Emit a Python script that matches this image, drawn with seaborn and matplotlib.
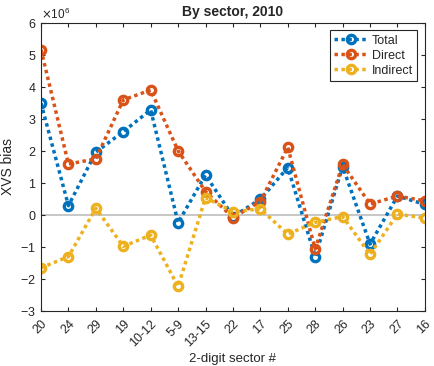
import numpy as np
import pandas as pd
import matplotlib
matplotlib.use("Agg")
import matplotlib.pyplot as plt
import seaborn as sns
from matplotlib.ticker import ScalarFormatter

sectors = ["20", "24", "29", "19", "10-12", "5-9", "13-15", "22", "17", "25", "28", "26", "23", "27", "16"]
total = [3.49, 0.29, 1.96, 2.60, 3.28, -0.24, 1.25, -0.05, 0.49, 1.48, -1.30, 1.51, -0.91, 0.59, 0.33]
direct = [5.16, 1.59, 1.75, 3.59, 3.90, 2.00, 0.73, -0.08, 0.42, 2.11, -1.06, 1.58, 0.34, 0.59, 0.44]
indirect = [-1.65, -1.30, 0.21, -0.98, -0.63, -2.23, 0.54, 0.10, 0.19, -0.60, -0.23, -0.05, -1.23, 0.03, -0.10]
scale = 1e6

sns.set_style("white")
plt.rcParams['font.family'] = ['Liberation Sans', 'DejaVu Sans']

fig = plt.figure(figsize=(4.34, 3.66), dpi=100)
ax = fig.add_axes([0.0945, 0.150, 0.8845, 0.788])

x = np.arange(1, len(sectors) + 1)
df = pd.DataFrame({"x": np.tile(x, 3),
                   "y": np.array(total + direct + indirect) * scale,
                   "series": ["Total"] * 15 + ["Direct"] * 15 + ["Indirect"] * 15})

ax.axhline(0, color="#bdbdbd", lw=1.2, zorder=0)
colors = {"Total": "#0072BD", "Direct": "#D95319", "Indirect": "#EDB120"}
for name in ["Total", "Direct", "Indirect"]:
    sub = df[df.series == name]
    sns.lineplot(data=sub, x="x", y="y", ax=ax, color=colors[name],
                 lw=2.5, dashes=False, marker="o", markersize=6, markerfacecolor="none",
                 markeredgewidth=2.4, markeredgecolor=colors[name], label=name)
for line in ax.get_lines()[1:]:
    line.set_dashes((1, 1))

ax.set_xlim(1, 15)
ax.set_ylim(-3e6, 6e6)
ax.set_yticks(np.arange(-3, 7) * scale)
ax.set_xticks(x)
ax.set_xticklabels(sectors, rotation=45, ha="right", rotation_mode="anchor")
fmt = ScalarFormatter(useMathText=True)
fmt.set_powerlimits((0, 0))
ax.yaxis.set_major_formatter(fmt)
ax.yaxis.get_offset_text().set_fontsize(8.5)
ax.yaxis.get_offset_text().set_color("#262626")

for s in ax.spines.values():
    s.set_color("#262626")
    s.set_linewidth(0.8)
ax.tick_params(axis="both", direction="in", length=3, width=0.8, color="#262626",
               labelsize=9, labelcolor="#262626", top=True, right=True, left=True, bottom=True)
ax.tick_params(axis="x", pad=5)

ax.set_title("By sector, 2010", fontsize=10, fontweight="bold", pad=5)
ax.set_xlabel("2-digit sector #", fontsize=9.5, color="#262626", labelpad=3)
ax.set_ylabel("XVS bias", fontsize=10, color="#262626", labelpad=4)

leg = ax.legend(loc="upper right", fontsize=9, frameon=True, fancybox=False,
                edgecolor="#262626", framealpha=1, borderpad=0.35, handlelength=2.6,
                handletextpad=0.4, labelspacing=0.25, borderaxespad=0.6)
leg.get_frame().set_linewidth(0.8)

fig.savefig("out.png", dpi=100)
